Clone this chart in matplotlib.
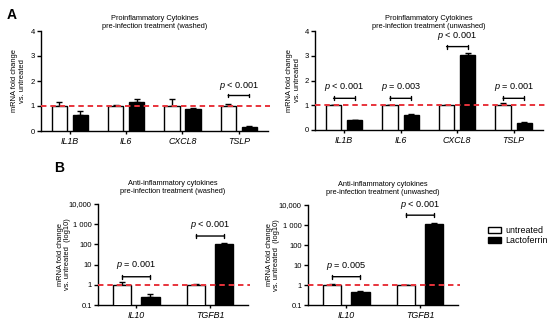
import matplotlib
matplotlib.use("Agg")
import matplotlib.pyplot as plt
import numpy as np
from matplotlib.patches import Patch
from matplotlib.ticker import FixedLocator, FixedFormatter, NullLocator

plt.rcParams.update({
    "font.family": ["Liberation Sans", "DejaVu Sans"],
    "font.size": 5.5,
    "mathtext.fontset": "custom",
    "mathtext.rm": "Liberation Sans",
    "mathtext.it": "Liberation Sans:italic",
    "axes.linewidth": 1.0,
})

# ---- data ----
pro_genes = ["IL1B", "IL6", "CXCL8", "TSLP"]
anti_genes = ["IL10", "TGFB1"]

# panel A, washed
a_wash_untr = [1.0, 1.0, 1.0, 1.0]
a_wash_untr_err = [0.15, 0.03, 0.30, 0.10]
a_wash_lf = [0.65, 1.15, 0.90, 0.18]
a_wash_lf_err = [0.15, 0.15, 0.03, 0.03]

# panel A, unwashed
a_unw_untr = [1.0, 1.0, 1.0, 1.0]
a_unw_untr_err = [0.03, 0.01, 0.01, 0.08]
a_unw_lf = [0.40, 0.60, 3.05, 0.30]
a_unw_lf_err = [0.01, 0.03, 0.06, 0.02]

# panel B, washed
b_wash_untr = [1.0, 1.0]
b_wash_untr_err = [0.40, 0.12]
b_wash_lf = [0.25, 110.0]
b_wash_lf_err = [0.10, 12.0]

# panel B, unwashed
b_unw_untr = [1.0, 1.0]
b_unw_untr_err = [0.12, 0.03]
b_unw_lf = [0.45, 1100.0]
b_unw_lf_err = [0.04, 110.0]

# significance: (gene index, bracket y, text y, label)
a_wash_sig = [(3, 1.42, 1.80, "$\\it{p}$ < 0.001")]
a_unw_sig = [(0, 1.28, 1.72, "$\\it{p}$ < 0.001"), (1, 1.28, 1.72, "$\\it{p}$ = 0.003"),
             (2, 3.37, 3.80, "$\\it{p}$ < 0.001"), (3, 1.28, 1.72, "$\\it{p}$ = 0.001")]
b_wash_sig = [(0, 2.5, 9.5, "$\\it{p}$ = 0.001"), (1, 260, 900, "$\\it{p}$ < 0.001")]
b_unw_sig = [(0, 2.6, 9.0, "$\\it{p}$ = 0.005"), (1, 3100, 9500, "$\\it{p}$ < 0.001")]

log_ticks = [0.1, 1, 10, 100, 1000, 10000]
log_labels = ["0.1", "1", "10", "100", "1 000", "10,000"]

RED = "#e8343c"
NARROW = ["Liberation Sans Narrow", "Liberation Sans", "DejaVu Sans"]


def draw_panel(ax, genes, untr, untr_err, lf, lf_err, sig, width, off, log=False):
    x = np.arange(len(genes))
    if log:
        ax.set_yscale("log")
    ax.bar(x - off, untr, width, color="white", edgecolor="black", linewidth=1.0, zorder=3)
    ax.bar(x + off, lf, width, color="black", edgecolor="black", linewidth=1.0, zorder=3)
    ax.errorbar(x - off, untr, yerr=[np.zeros(len(x)), untr_err], fmt="none",
                ecolor="black", elinewidth=1.0, capsize=2.5, capthick=1.0, zorder=2)
    ax.errorbar(x + off, lf, yerr=[np.zeros(len(x)), lf_err], fmt="none",
                ecolor="black", elinewidth=1.0, capsize=2.5, capthick=1.0, zorder=2)
    ax.plot([0, 1.01], [1, 1], transform=ax.get_yaxis_transform(), color=RED,
            linestyle=(0, (2.8, 2.0)), linewidth=1.4, zorder=4, clip_on=False)
    for i, yb, yt, lab in sig:
        ax.annotate("", xy=(i - off, yb), xytext=(i + off, yb),
                    arrowprops=dict(arrowstyle="|-|,widthA=0.25,widthB=0.25",
                                    color="black", lw=1.0, shrinkA=0, shrinkB=0))
        ax.text(i, yt, lab, ha="center", va="center", fontsize=6.6)
    ax.set_xticks(x)
    ax.set_xticklabels(genes, style="italic", fontsize=6.4)
    ax.tick_params(axis="x", length=2, width=1.0, pad=2)
    ax.tick_params(axis="y", length=3, width=1.0, pad=1.5, labelsize=5.5)
    for s in ["top", "right"]:
        ax.spines[s].set_visible(False)


fig = plt.figure(figsize=(5.5, 3.2), dpi=100)

ax1 = fig.add_axes([41 / 550, 1 - 131 / 320, 227 / 550, 100 / 320])
draw_panel(ax1, pro_genes, a_wash_untr, a_wash_untr_err, a_wash_lf, a_wash_lf_err,
           a_wash_sig, 0.27, 0.187)
ax1.set_title("Proinflammatory Cytokines\npre-infection treatment (washed)", pad=2,
              fontsize=5.3, linespacing=1.15)

ax2 = fig.add_axes([315 / 550, 1 - 130 / 320, 228 / 550, 99 / 320])
draw_panel(ax2, pro_genes, a_unw_untr, a_unw_untr_err, a_unw_lf, a_unw_lf_err,
           a_unw_sig, 0.27, 0.187)
ax2.set_title("Proinflammatory Cytokines\npre-infection treatment (unwashed)", pad=2,
              fontsize=5.3, linespacing=1.15)

for ax, lx in [(ax1, -0.068), (ax2, -0.062)]:
    ax.set_xlim(-0.515, 3.52)
    ax.set_ylim(0, 4)
    ax.set_yticks([0, 1, 2, 3, 4])
    ax.set_ylabel("mRNA fold change\nvs. untreated", fontsize=5.4, family=NARROW,
                  linespacing=1.1)
    ax.yaxis.set_label_coords(lx, 0.5)

ax3 = fig.add_axes([98 / 550, 1 - 305 / 320, 150 / 550, 101 / 320])
draw_panel(ax3, anti_genes, b_wash_untr, b_wash_untr_err, b_wash_lf, b_wash_lf_err,
           b_wash_sig, 0.245, 0.19, log=True)
ax4 = fig.add_axes([308 / 550, 1 - 305 / 320, 150 / 550, 100 / 320])
draw_panel(ax4, anti_genes, b_unw_untr, b_unw_untr_err, b_unw_lf, b_unw_lf_err,
           b_unw_sig, 0.245, 0.19, log=True)
for ax, ttl, lx in [(ax3, "washed", -0.18), (ax4, "unwashed", -0.185)]:
    ax.set_xlim(-0.52, 1.51)
    ax.set_ylim(0.1, 10000)
    ax.yaxis.set_major_locator(FixedLocator(log_ticks))
    ax.yaxis.set_major_formatter(FixedFormatter(log_labels))
    ax.yaxis.set_minor_locator(NullLocator())
    ax.set_ylabel("mRNA fold change\nvs. untreated  (log10)", fontsize=5.4, family=NARROW,
                  linespacing=1.1)
    ax.yaxis.set_label_coords(lx, 0.5)
    ax.set_title(f"Anti-inflammatory cytokines\npre-infection treatment ({ttl})", pad=8,
                 fontsize=5.3, linespacing=1.15)

handles = [Patch(facecolor="white", edgecolor="black", linewidth=1.0, label="untreated"),
           Patch(facecolor="black", edgecolor="black", linewidth=1.0, label="Lactoferrin")]
fig.legend(handles=handles, loc="center left", bbox_to_anchor=(0.887, 0.264),
           frameon=False, fontsize=6.4, handlelength=1.5, handleheight=0.7,
           handletextpad=0.5, labelspacing=0.1, borderpad=0, borderaxespad=0)

fig.text(7 / 550, 1 - 15 / 320, "A", fontsize=10, fontweight="bold", va="center")
fig.text(54 / 550, 1 - 168 / 320, "B", fontsize=10, fontweight="bold", va="center")

fig.savefig("out.png", dpi=100)
